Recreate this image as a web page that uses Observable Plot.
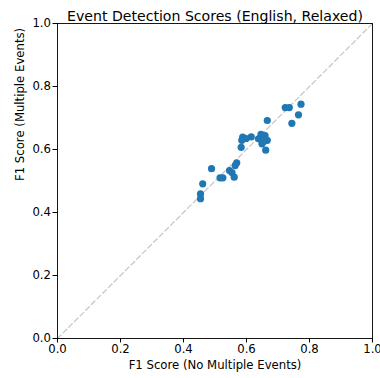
<!DOCTYPE html>
<html><head><meta charset="utf-8">
<script src="https://cdn.jsdelivr.net/npm/d3@7"></script>
<script src="https://cdn.jsdelivr.net/npm/@observablehq/plot@0.6"></script>
<style>body{margin:0;background:#fff}</style>
</head><body><div id="chart"></div>
<script>
const title = "Event Detection Scores (English, Relaxed)";
const xLabel = "F1 Score (No Multiple Events)";
const yLabel = "F1 Score (Multiple Events)";
const ticks = [0, 0.2, 0.4, 0.6, 0.8, 1.0];
const noMultiple = [0.773,0.723,0.736,0.765,0.744,0.666,0.588,0.585,0.583,0.615,0.638,0.646,0.659,0.666,0.649,0.661,0.654,0.599,0.569,0.564,0.546,0.554,0.489,0.516,0.525,0.561,0.461,0.454,0.454];
const multiple   = [0.744,0.733,0.733,0.710,0.683,0.692,0.639,0.629,0.607,0.640,0.634,0.648,0.644,0.629,0.618,0.598,0.625,0.635,0.558,0.549,0.533,0.527,0.539,0.510,0.510,0.512,0.491,0.459,0.444];
const data = noMultiple.map((x, i) => ({x, y: multiple[i]}));
const diag = [{x:0,y:0},{x:1,y:1}];

const chart = Plot.plot({
  width: 380, height: 378,
  marginLeft: 57, marginRight: 8, marginTop: 23, marginBottom: 40,
  style: {fontFamily: "DejaVu Sans", fontSize: "11.7px", color: "#000", background: "#fff", overflow: "visible"},
  x: {domain: [0, 1]},
  y: {domain: [0, 1]},
  marks: [
    Plot.line(diag, {x: "x", y: "y", stroke: "#c8c8c8", strokeWidth: 1.3, strokeDasharray: "5,3"}),
    Plot.dot(data, {x: "x", y: "y", r: 3.6, fill: "#1f77b4", stroke: "none"}),
    Plot.frame({stroke: "#000", strokeWidth: 0.9}),
    Plot.axisX({ticks, tickFormat: d3.format(".1f"), tickSize: 4.5, tickPadding: 2, fontSize: 11.7, label: null}),
    Plot.axisY({ticks, tickFormat: d3.format(".1f"), tickSize: 4.5, tickPadding: 2, fontSize: 11.7, label: null}),
    Plot.text([xLabel], {frameAnchor: "bottom", dy: 30, fontSize: 11.7, fill: "#000", text: d => d}),
    Plot.text([yLabel], {frameAnchor: "left", dx: -37, rotate: -90, fontSize: 11.7, fill: "#000", text: d => d}),
    Plot.text([title], {frameAnchor: "top", dy: -13, fontSize: 14.1, fill: "#000", text: d => d})
  ]
});
document.getElementById("chart").append(chart);
</script></body></html>
